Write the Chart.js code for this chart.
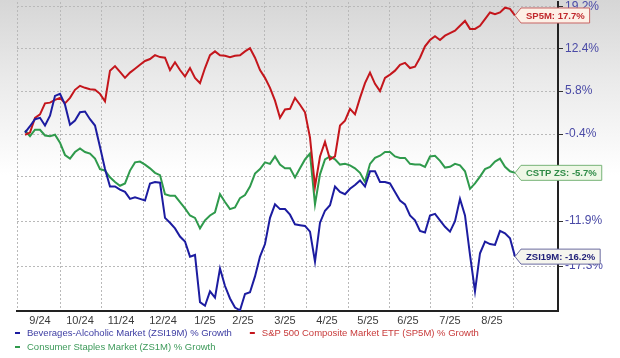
<!DOCTYPE html>
<html><head><meta charset="utf-8">
<script src="https://cdn.jsdelivr.net/npm/chart.js@4.4.1/dist/chart.umd.min.js"></script>
<style>html,body{margin:0;padding:0;background:#fff;}</style>
</head><body>
<canvas id="c" width="620" height="358"></canvas>
<script>
// ---- data (percent growth, sampled at evenly spaced sessions) ----
const seriesNames = ['Beverages-Alcoholic Market (ZSI19M) % Growth','S&P 500 Composite Market ETF (SP5M) % Growth','Consumer Staples Market (ZS1M) % Growth'];
const tagNames = ['ZSI19M','SP5M','CSTP ZS'];
const beverages = [-0.2,0.7,1.7,1.9,0.8,2.2,5.1,5.4,3.8,0.9,
 1.5,2.7,2.8,1.7,0.8,-2.2,-5.2,-7.5,-7.5,-7.9,
 -8.2,-9.1,-8.9,-9.1,-9.3,-7.1,-6.9,-7.0,-11.5,-12.1,
 -12.8,-13.8,-14.4,-16.2,-16.0,-21.4,-21.8,-20.2,-20.9,-17.6,
 -19.6,-21.0,-22.0,-22.3,-20.5,-20.3,-18.5,-16.2,-14.7,-11.5,
 -9.8,-10.4,-10.4,-11.1,-12.3,-12.4,-12.5,-13.2,-16.8,-12.1,
 -10.6,-9.9,-7.5,-8.2,-8.5,-7.8,-7.3,-6.7,-7.5,-5.5,
 -5.5,-6.9,-6.9,-7.1,-8.2,-9.3,-9.8,-11.2,-11.8,-13.1,
 -13.3,-11.2,-11.0,-11.8,-12.6,-13.2,-11.9,-9.1,-11.2,-16.0,
 -20.2,-15.8,-14.4,-14.7,-14.8,-13.1,-13.4,-14.0,-16.2];
const sp500 = [-0.5,-0.2,1.9,2.4,4.0,4.1,4.5,4.8,4.0,4.8,
 6.0,6.6,6.3,6.1,6.0,5.4,4.3,8.9,9.6,8.7,
 7.8,8.6,9.2,9.8,10.4,10.7,11.3,11.0,10.9,9.0,
 10.2,9.0,8.0,9.3,7.8,7.0,9.3,11.3,11.9,11.3,
 11.2,11.0,11.2,11.3,11.9,12.4,10.9,9.0,7.8,6.3,
 4.4,1.9,3.1,3.2,4.8,3.8,2.7,-0.9,-7.5,-3.5,
 -1.5,-3.9,-3.5,0.8,1.5,3.2,2.4,4.8,7.0,8.6,
 6.9,5.8,7.8,8.3,8.9,9.8,10.1,9.3,9.5,10.9,
 12.7,13.7,14.3,13.7,14.4,14.8,15.2,16.0,16.8,15.5,
 15.5,16.0,17.1,18.2,17.9,18.2,19.0,18.8,17.7];
const staples = [0.1,-0.7,0.2,0.2,-0.6,-0.7,-0.5,-1.6,-3.3,-3.8,
 -2.9,-2.4,-2.9,-3.1,-3.8,-5.2,-5.4,-6.3,-6.9,-7.4,
 -7.1,-5.4,-4.3,-4.2,-4.6,-5.1,-5.7,-6.0,-8.5,-8.7,
 -8.7,-9.5,-10.3,-11.2,-11.5,-12.8,-11.8,-11.2,-10.8,-8.5,
 -9.5,-10.4,-10.2,-9.0,-8.6,-7.5,-5.8,-5.2,-4.3,-4.5,
 -3.5,-4.6,-5.1,-5.1,-6.3,-5.1,-3.9,-3.1,-9.8,-5.9,
 -3.9,-3.5,-3.9,-4.6,-4.5,-4.7,-5.1,-5.7,-6.9,-4.5,
 -3.7,-3.4,-2.9,-2.9,-3.5,-3.7,-3.7,-4.5,-4.6,-4.6,
 -4.9,-3.5,-3.4,-4.1,-5.0,-4.9,-4.5,-4.7,-5.5,-7.8,
 -7.1,-6.2,-5.2,-4.9,-4.2,-3.8,-4.9,-5.5,-5.7];
// month tick labels and where (in session index) they sit
const monthLabels = ['9/24','10/24','11/24','12/24','1/25','2/25','3/25','4/25','5/25','6/25','7/25','8/25'];
const monthLabelAt = [3,11,19.2,27.6,36,43.6,52,60.4,68.6,76.6,85,93.4];
const monthGridAt = [-1.6,7,15.2,23.6,32,39.6,47.8,56.2,64.6,72.8,81,89.4,97.6];
const xRange = [-1.6,106.6];
const yTicks = [19.2,12.4,5.8,-0.4,-6.2,-11.9,-17.3];
const yRange = [-22.38,19.96];

const lineColors = ['#1c1ca0','#c4161c','#2f9a4c'];
const textColors = ['#3c3ca2','#c83a3a','#3d9a5a'];
const tagStyles = [
  {bg:'#f6f6ee',border:'#6a6aa0',text:'#22227a'},
  {bg:'#fdf0e6',border:'#c86464',text:'#c0282c'},
  {bg:'#eef7e6',border:'#78b478',text:'#2e8b46'}
];
const FONT = '"Liberation Sans", Arial, sans-serif';
const seriesValues = [beverages, sp500, staples];

const bgPlugin = {
  id:'bg',
  beforeDraw(chart){
    const ctx = chart.ctx;
    ctx.save();
    ctx.fillStyle = '#fff';
    ctx.fillRect(0,0,chart.width,chart.height);
    const g = ctx.createLinearGradient(0,0,0,175);
    g.addColorStop(0,'#d6d6d6');
    g.addColorStop(0.45,'#eaeaea');
    g.addColorStop(1,'#ffffff');
    ctx.fillStyle = g;
    ctx.fillRect(0,0,chart.width,175);
    ctx.restore();
  }
};

const tagPlugin = {
  id:'tags',
  afterDraw(chart){
    const ctx = chart.ctx;
    ctx.save();
    ctx.font = 'bold 9.5px ' + FONT;
    ctx.textBaseline = 'middle';
    chart.data.datasets.forEach((ds, di) => {
      const meta = chart.getDatasetMeta(di);
      const pt = meta.data[meta.data.length-1];
      const vals = seriesValues[di];
      const txt = tagNames[di] + ': ' + vals[vals.length-1].toFixed(1) + '%';
      const w = ctx.measureText(txt).width;
      const st = tagStyles[di];
      const x0 = pt.x, y0 = pt.y, h = 15, tip = 6, pad = 5;
      ctx.beginPath();
      ctx.moveTo(x0, y0);
      ctx.lineTo(x0+tip, y0-h/2);
      ctx.lineTo(x0+tip+w+2*pad, y0-h/2);
      ctx.lineTo(x0+tip+w+2*pad, y0+h/2);
      ctx.lineTo(x0+tip, y0+h/2);
      ctx.closePath();
      ctx.fillStyle = st.bg; ctx.fill();
      ctx.lineWidth = 1; ctx.strokeStyle = st.border; ctx.stroke();
      ctx.fillStyle = st.text;
      ctx.fillText(txt, x0+tip+pad, y0+0.5);
    });
    ctx.restore();
  }
};

const legendPlugin = {
  id:'customLegend',
  afterDraw(chart){
    const ctx = chart.ctx;
    ctx.save();
    ctx.font = '9.5px ' + FONT;
    ctx.textBaseline = 'middle';
    const rows = [[0,1],[2]];
    const rowY = [333,347];
    rows.forEach((row, r) => {
      let x = 15;
      row.forEach(di => {
        ctx.fillStyle = lineColors[di];
        ctx.fillRect(x, rowY[r]-1, 5, 2);
        ctx.fillStyle = textColors[di];
        const tx = x + 12;
        ctx.fillText(seriesNames[di], tx, rowY[r]);
        x = tx + ctx.measureText(seriesNames[di]).width + 18;
      });
    });
    ctx.restore();
  }
};

const datasets = seriesValues.map((vals, di) => ({
  label: seriesNames[di],
  data: vals.map((v,i) => ({x:i, y:100+v})),
  borderColor: lineColors[di],
  borderWidth: 2,
  pointRadius: 0,
  tension: 0,
  fill: false
}));

new Chart(document.getElementById('c'), {
  type:'line',
  data:{datasets},
  options:{
    responsive:false,
    animation:false,
    events:[],
    layout:{padding:{left:17,top:2,right:0,bottom:0}},
    plugins:{legend:{display:false},tooltip:{enabled:false}},
    scales:{
      x:{
        type:'linear',
        min:xRange[0], max:xRange[1],
        afterBuildTicks(scale){
          const t = monthGridAt.map(v => ({value:v, grid:true, lab:''}))
            .concat(monthLabelAt.map((v,i) => ({value:v, grid:false, lab:monthLabels[i]})));
          t.sort((a,b) => a.value-b.value);
          scale.ticks = t;
        },
        afterFit(scale){ scale.height = 47; scale.paddingLeft = 0; scale.paddingRight = 0; },
        ticks:{
          autoSkip:false, maxRotation:0, minRotation:0, padding:3,
          color:'#3a3a3a', font:{family:FONT, size:11},
          callback(v, i, ticks){ return ticks[i].lab; }
        },
        grid:{
          drawTicks:false,
          color(ctx){ return ctx.tick && ctx.tick.grid ? '#b9b9b9' : 'rgba(0,0,0,0)'; },
          lineWidth:1
        },
        border:{display:true, color:'#222', width:2, dash:[2,2]}
      },
      y:{
        type:'logarithmic',
        position:'right',
        min:100+yRange[0], max:100+yRange[1],
        afterBuildTicks(scale){ scale.ticks = yTicks.map(v => ({value:100+v})); },
        afterFit(scale){ scale.width = 62; scale.paddingTop = 0; scale.paddingBottom = 0; },
        ticks:{
          padding:2, color:'#4a4aa6', font:{family:FONT, size:12},
          callback(v){ const g = v-100; const i = yTicks.findIndex(t => Math.abs(t-g) < 0.01); return i>=0 ? yTicks[i].toFixed(1)+'%' : ''; }
        },
        grid:{color:'#b9b9b9', lineWidth:1, tickLength:5, tickColor:'#333', tickBorderDash:[]},
        border:{display:true, color:'#222', width:2, dash:[2,2]}
      }
    }
  },
  plugins:[bgPlugin, tagPlugin, legendPlugin]
});
</script>
</body></html>
